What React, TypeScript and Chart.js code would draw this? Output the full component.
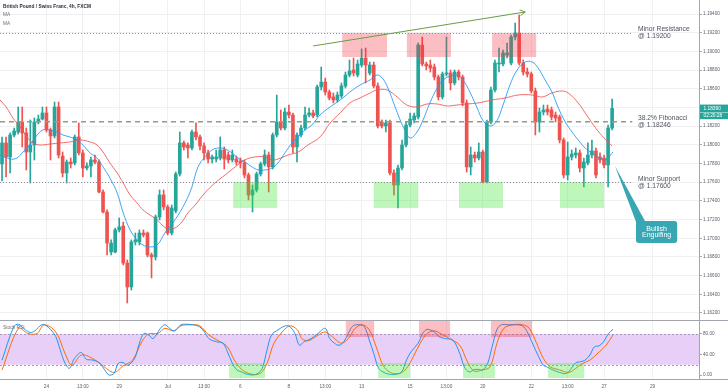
import { useEffect, useRef } from 'react';
import { Chart, registerables } from 'chart.js';

Chart.register(...registerables);

const FONT = "'Liberation Sans', Arial, sans-serif";
const UP = '#26a69a';
const DOWN = '#ef5350';

// ---- candles (4h GBP/CHF), index 0..151 ----
const opens = [
  1.17795,1.18020,1.17870,1.18105,1.18137,1.18244,1.18127,1.17923,1.17998,1.18244,
  1.18276,1.18341,1.18159,1.18095,1.18405,1.17880,1.17699,1.17816,1.17806,1.18084,
  1.17913,1.17752,1.17773,1.17838,1.17816,1.17495,1.17281,1.16853,1.16853,1.17089,
  1.17131,1.16735,1.16479,1.16960,1.16960,1.17056,1.17056,1.16821,1.16800,1.17228,
  1.17463,1.17335,1.17056,1.17292,1.17688,1.18020,1.17998,1.17966,1.18137,1.18084,
  1.17988,1.17913,1.17848,1.17848,1.17859,1.17945,1.17891,1.17838,1.17848,1.17827,
  1.17806,1.17677,1.17463,1.17517,1.17688,1.17795,1.17891,1.17763,1.18105,1.18244,
  1.18180,1.18351,1.18319,1.17977,1.18105,1.18180,1.18319,1.18341,1.18319,1.18619,
  1.18672,1.18565,1.18512,1.18480,1.18523,1.18630,1.18747,1.18801,1.18747,1.18854,
  1.18929,1.18769,1.18854,1.18630,1.18244,1.18202,1.18234,1.17699,1.17570,1.17752,
  1.17998,1.18212,1.18266,1.18298,1.19068,1.18865,1.18854,1.18833,1.18726,1.18512,
  1.18758,1.18769,1.18662,1.18779,1.18726,1.18448,1.17763,1.17891,1.17859,1.17923,
  1.17602,1.18244,1.18587,1.18865,1.18865,1.18961,1.18876,1.19154,1.19197,1.18876,
  1.18779,1.18758,1.18576,1.18244,1.18351,1.18383,1.18373,1.18319,1.18298,1.18052,
  1.17677,1.17870,1.17891,1.17913,1.17752,1.17806,1.17891,1.17934,1.17870,1.17859,
  1.17784,1.18180,
];
const highs = [
  1.18084,1.18084,1.18127,1.18180,1.18405,1.18405,1.18180,1.18266,1.18287,1.18319,
  1.18405,1.18405,1.18180,1.18458,1.18458,1.17923,1.17838,1.17859,1.18105,1.18234,
  1.17945,1.17806,1.17870,1.17891,1.17838,1.17517,1.17303,1.16982,1.17110,1.17217,
  1.17174,1.16767,1.16982,1.17056,1.17089,1.17089,1.17067,1.16842,1.17249,1.17517,
  1.17517,1.17356,1.17356,1.17709,1.18137,1.18041,1.18020,1.18159,1.18234,1.18105,
  1.18020,1.17945,1.17891,1.17945,1.18084,1.17977,1.17923,1.17945,1.17880,1.17859,
  1.17838,1.17699,1.17570,1.17709,1.17816,1.17945,1.17923,1.18127,1.18533,1.18373,
  1.18394,1.18426,1.18341,1.18127,1.18212,1.18405,1.18394,1.18373,1.18640,1.18833,
  1.18715,1.18587,1.18555,1.18565,1.18662,1.18779,1.18908,1.18929,1.18908,1.19026,
  1.19036,1.18886,1.18886,1.18662,1.18266,1.18266,1.18266,1.17731,1.17784,1.18052,
  1.18244,1.18341,1.18341,1.19090,1.19154,1.18886,1.18908,1.18865,1.18747,1.18779,
  1.19154,1.18801,1.18801,1.18801,1.18747,1.18480,1.17977,1.17923,1.18020,1.17945,
  1.18266,1.18619,1.18908,1.19036,1.19015,1.19090,1.19175,1.19304,1.19389,1.18908,
  1.18822,1.18779,1.18608,1.18394,1.18426,1.18426,1.18405,1.18351,1.18319,1.18073,
  1.18030,1.17945,1.17966,1.17945,1.17859,1.18020,1.18052,1.17966,1.17913,1.17891,
  1.18212,1.18490,
];
const lows = [
  1.17613,1.17656,1.17699,1.18084,1.18116,1.17977,1.17731,1.17591,1.17838,1.18223,
  1.18266,1.18137,1.17838,1.18073,1.17859,1.17656,1.17591,1.17752,1.17784,1.17891,
  1.17656,1.17731,1.17656,1.17795,1.17485,1.17271,1.16821,1.16821,1.16842,1.17067,
  1.16714,1.16307,1.16446,1.16928,1.16928,1.17014,1.16800,1.16575,1.16767,1.17196,
  1.17303,1.17035,1.17035,1.17271,1.17666,1.17945,1.17859,1.17945,1.18052,1.17945,
  1.17838,1.17806,1.17806,1.17816,1.17838,1.17741,1.17806,1.17816,1.17784,1.17752,
  1.17645,1.17410,1.17281,1.17495,1.17666,1.17773,1.17495,1.17741,1.18084,1.18159,
  1.18159,1.18287,1.17913,1.17816,1.18084,1.18159,1.18298,1.18287,1.18298,1.18587,
  1.18533,1.18480,1.18448,1.18458,1.18501,1.18608,1.18726,1.18737,1.18726,1.18833,
  1.18662,1.18747,1.18608,1.18180,1.18180,1.18137,1.17677,1.17463,1.17324,1.17731,
  1.17977,1.18191,1.18234,1.18276,1.18844,1.18801,1.18779,1.18694,1.18480,1.18490,
  1.18737,1.18587,1.18640,1.18694,1.18416,1.17709,1.17677,1.17816,1.17838,1.17591,
  1.17591,1.18223,1.18565,1.18779,1.18844,1.18929,1.18854,1.19122,1.18854,1.18747,
  1.18726,1.18555,1.18105,1.18137,1.18319,1.18319,1.18266,1.18244,1.18020,1.17645,
  1.17624,1.17838,1.17859,1.17709,1.17549,1.17784,1.17859,1.17645,1.17806,1.17752,
  1.17549,1.18159,
];
const closes = [
  1.18020,1.17870,1.18105,1.18148,1.18244,1.18127,1.17923,1.17998,1.18244,1.18276,
  1.18341,1.18159,1.18095,1.18405,1.17891,1.17699,1.17816,1.17795,1.18084,1.17913,
  1.17752,1.17773,1.17838,1.17816,1.17495,1.17281,1.16949,1.16949,1.17089,1.17121,
  1.16735,1.16479,1.16960,1.16982,1.17056,1.17035,1.16821,1.16800,1.17228,1.17463,
  1.17335,1.17056,1.17324,1.17688,1.18020,1.17977,1.17966,1.18137,1.18084,1.17988,
  1.17913,1.17848,1.17870,1.17870,1.17945,1.17848,1.17838,1.17891,1.17816,1.17806,
  1.17677,1.17463,1.17517,1.17688,1.17795,1.17891,1.17763,1.18105,1.18244,1.18180,
  1.18351,1.18319,1.17977,1.18105,1.18180,1.18319,1.18341,1.18309,1.18619,1.18672,
  1.18565,1.18501,1.18480,1.18533,1.18630,1.18747,1.18790,1.18769,1.18865,1.18929,
  1.18854,1.18854,1.18630,1.18202,1.18202,1.18234,1.17699,1.17570,1.17752,1.17998,
  1.18212,1.18276,1.18309,1.19068,1.18865,1.18844,1.18822,1.18726,1.18512,1.18758,
  1.18769,1.18662,1.18779,1.18726,1.18448,1.17763,1.17891,1.17859,1.17923,1.17602,
  1.18244,1.18587,1.18876,1.18876,1.18983,1.18983,1.19154,1.19197,1.18876,1.18779,
  1.18758,1.18576,1.18244,1.18351,1.18373,1.18351,1.18298,1.18287,1.18052,1.17677,
  1.17870,1.17902,1.17913,1.17752,1.17816,1.17891,1.17934,1.17677,1.17838,1.17784,
  1.18180,1.18390,
];

// ---- moving averages ----
const maBlueIdx = [-0.5,2.0,3.7,5.2,6.9,8.7,10.1,11.9,13.6,15.1,16.8,18.6,20.0,21.8,23.5,25.0,26.7,28.5,30.0,31.7,33.4,34.9,36.6,38.4,40.3,42.8,45.3,47.0,48.5,50.2,52.0,53.5,55.2,56.9,58.4,60.1,61.9,63.4,65.1,66.8,68.3,70.0,71.8,73.3,75.0,76.7,78.7,81.2,83.7,86.1,88.6,91.1,92.8,94.1,95.5,97.3,99.3,101.0,102.7,104.2,105.9,107.7,109.2,110.9,112.6,114.1,115.8,117.6,119.1,120.8,122.3,124.0,125.7,127.5,129.5,131.2,132.7,134.4,136.1,137.6,139.4,141.1,142.6,144.3,146.0,147.5,149.3,150.0,151.2];
const maBlueVal = [1.17891,1.17848,1.17859,1.17923,1.17998,1.18105,1.18159,1.18159,1.18137,1.18105,1.18084,1.18052,1.17998,1.17913,1.17859,1.17763,1.17645,1.17485,1.17271,1.17089,1.16982,1.16928,1.16907,1.16928,1.17056,1.17196,1.17378,1.17549,1.17763,1.17870,1.17945,1.17966,1.17955,1.17913,1.17859,1.17816,1.17763,1.17731,1.17731,1.17752,1.17806,1.17913,1.18020,1.18084,1.18159,1.18212,1.18319,1.18405,1.18480,1.18565,1.18640,1.18694,1.18747,1.18715,1.18608,1.18405,1.18191,1.18073,1.18137,1.18266,1.18448,1.18608,1.18694,1.18737,1.18747,1.18694,1.18565,1.18394,1.18255,1.18202,1.18244,1.18426,1.18640,1.18801,1.18886,1.18886,1.18822,1.18694,1.18565,1.18405,1.18244,1.18137,1.18052,1.17966,1.17913,1.17870,1.17838,1.17859,1.17923];
const maRedIdx = [-0.5,1.2,2.7,4.5,6.2,7.7,9.4,11.9,14.4,16.8,19.3,21.8,23.5,25.0,26.7,28.5,30.0,31.7,33.4,34.9,36.6,38.4,39.6,41.1,42.8,44.5,46.0,47.8,50.2,52.7,55.2,57.7,60.1,62.6,65.1,66.8,68.3,70.8,73.3,75.7,78.7,81.2,83.7,86.1,88.6,91.1,92.8,95.3,97.8,100.2,102.7,105.2,107.7,110.1,112.6,115.1,117.8,121.3,124.5,127.7,131.2,133.7,136.1,138.6,140.1,142.6,145.0,147.5,149.5,151.0];
const maRedVal = [1.18480,1.18394,1.18287,1.18191,1.18084,1.18020,1.17998,1.18009,1.18020,1.18030,1.18052,1.18030,1.17998,1.17923,1.17806,1.17699,1.17591,1.17463,1.17378,1.17303,1.17249,1.17196,1.17142,1.17099,1.17110,1.17174,1.17271,1.17356,1.17485,1.17591,1.17677,1.17763,1.17838,1.17870,1.17870,1.17838,1.17848,1.17891,1.17923,1.17998,1.18084,1.18234,1.18341,1.18448,1.18501,1.18555,1.18587,1.18587,1.18512,1.18426,1.18405,1.18437,1.18437,1.18416,1.18426,1.18437,1.18448,1.18480,1.18501,1.18533,1.18533,1.18512,1.18555,1.18576,1.18555,1.18448,1.18298,1.18148,1.18052,1.17988];

// ---- Stoch RSI ----
const stochKIdx = [0,2.9,4.1,5.8,7.0,8.1,9.8,11.0,12.1,13.3,14.4,15.6,16.7,17.9,19.6,20.8,22.5,24.2,25.4,26.5,27.7,28.8,30.0,31.1,32.8,34.0,35.1,36.3,37.4,39.2,40.3,41.5,42.6,44.3,45.5,47.2,48.9,50.1,51.2,53.0,54.7,55.8,57.0,58.1,59.3,60.4,62.1,63.3,64.4,65.6,66.7,68.5,70.2,71.3,72.5,73.6,74.8,76.5,78.2,80.0,81.1,82.3,83.4,84.6,85.7,86.9,88.6,89.7,90.9,92.0,93.2,94.3,95.5,97.2,98.9,100.1,101.2,103.0,104.1,105.2,107.0,108.1,109.8,111.6,113.3,114.4,115.6,116.7,117.9,119.0,120.2,121.3,122.5,123.6,125.4,127.1,128.8,130.0,131.1,132.8,134.0,135.1,136.3,138.0,139.7,140.9,142.0,143.2,144.3,145.5,146.6,147.8,148.9,150.1,151.2];
const stochKVal = [29,94,99,88,83,86,98,96,88,75,49,23,13,32,44,31,29,23,10,0,3,23,24,19,32,62,81,78,71,91,98,91,86,98,99,98,94,84,71,65,62,45,23,10,6,2,0,3,13,49,78,89,96,94,81,58,65,71,81,91,71,62,58,65,81,96,98,94,68,42,13,6,2,1,6,29,45,62,81,89,84,75,71,68,42,16,6,10,11,10,23,55,89,98,98,98,96,84,65,36,19,15,10,5,3,13,24,26,29,39,55,57,65,81,89];
const stochDIdx = [0,4.1,6.4,8.7,10.4,13.3,15.6,17.3,19.6,22.5,24.8,27.7,30.0,32.3,34.6,36.3,38.6,40.3,42.6,44.3,46.6,48.9,51.2,53.5,55.8,57.5,59.3,61.6,63.9,65.6,67.3,69.6,71.3,73.1,74.2,75.9,77.7,80.0,82.3,84.0,85.7,87.4,89.2,90.9,92.6,94.3,96.1,98.4,100.1,101.8,103.5,105.2,107.0,108.7,111.0,113.3,115.0,116.7,119.0,120.8,122.5,124.2,126.5,128.8,130.5,132.3,134.0,135.7,138.0,140.3,142.0,143.8,145.5,147.8,149.5,151.2];
const stochDVal = [10,91,81,81,98,84,42,19,39,32,19,5,18,29,65,80,81,91,86,96,98,96,78,67,55,29,11,2,3,23,62,86,96,88,71,67,75,84,71,62,71,91,98,88,55,19,5,3,13,36,62,81,86,80,70,58,29,8,10,16,62,91,98,98,91,62,32,16,10,5,13,23,29,45,58,78];

// ---- axes ----
const xTickIdx = [11,20,29,41,50,59,71,80,89,101,110,119,131,140,149,161];
const xTickLbl = ['24','13:00','29','Jul','13:00','6','8','13:00','13','15','13:00','20','22','13:00','27','29'];
const priceTicks = [1.162,1.164,1.166,1.168,1.170,1.172,1.174,1.176,1.178,1.180,1.182,1.184,1.186,1.188,1.190,1.192,1.194];
const stochTicks = [0, 40, 80];

// ---- annotations (data coordinates) ----
const resistance = 1.192;
const support = 1.176;
const fib382 = 1.18246;
const resBoxes = [[84.2, 95.3], [100.2, 111.1], [121.3, 132.2]];
const resBoxPrices = [1.18940, 1.19197];
const supBoxes = [[57.2, 68.1], [92, 103], [113.1, 124], [138.1, 149]];
const supBoxPrices = [1.17324, 1.17602];
const stochRedBoxes = [[85.1, 92.1], [103.2, 110.9], [121.0, 131.2]];
const stochRedRange = [74, 107.3];
const stochGreenBoxes = [[56.2, 65.1], [93.1, 101.0], [114.1, 122.0], [135.1, 144.1]];
const stochGreenRange = [-6, 23];
const trendFrom = [77.0, 1.19058];
const trendTo = [129.5, 1.19422];
const levelEndIdx = 156;
const levelTextIdx = 157.4;
const calloutBox = [156.9, 167.1, 1.17185, 1.16949];
const calloutTip = [151.7, 1.17774];

export default function App() {
  const ref = useRef<HTMLCanvasElement>(null);

  useEffect(() => {
    const canvas = ref.current;
    if (!canvas) return;
    const idx = opens.map((_, i) => i);
    const colors = idx.map((i) => (closes[i] >= opens[i] ? UP : DOWN));

    const overlay = {
      id: 'overlay',
      beforeDatasetsDraw(chart: any) {
        const { ctx, chartArea: ca } = chart;
        const s2 = chart.scales.y2;
        ctx.save();
        const b1 = s2.getPixelForValue(80);
        const b0 = s2.getPixelForValue(20);
        ctx.fillStyle = '#e8cff7';
        ctx.fillRect(ca.left, b1, ca.right - ca.left, b0 - b1);
        ctx.strokeStyle = '#a898bb';
        ctx.lineWidth = 1;
        ctx.setLineDash([2, 2]);
        for (const p of [b1, b0]) {
          const yy = Math.round(p) + 0.5;
          ctx.beginPath();
          ctx.moveTo(ca.left, yy);
          ctx.lineTo(ca.right, yy);
          ctx.stroke();
        }
        ctx.restore();
      },
      afterDatasetsDraw(chart: any) {
        const { ctx, chartArea: ca } = chart;
        const sx = chart.scales.x, sy = chart.scales.y, s2 = chart.scales.y2;
        ctx.save();
        const rect = (sc: any, a: number, b: number, v0: number, v1: number) => {
          const x0 = sx.getPixelForValue(a), x1 = sx.getPixelForValue(b);
          const y0 = sc.getPixelForValue(v1), y1 = sc.getPixelForValue(v0);
          ctx.fillRect(x0, y0, x1 - x0, y1 - y0);
        };
        ctx.fillStyle = 'rgba(242,54,69,0.32)';
        for (const [a, b] of resBoxes) rect(sy, a, b, resBoxPrices[0], resBoxPrices[1]);
        for (const [a, b] of stochRedBoxes) rect(s2, a, b, stochRedRange[0], stochRedRange[1]);
        ctx.fillStyle = 'rgba(60,230,50,0.33)';
        for (const [a, b] of supBoxes) rect(sy, a, b, supBoxPrices[0], supBoxPrices[1]);
        for (const [a, b] of stochGreenBoxes) rect(s2, a, b, stochGreenRange[0], stochGreenRange[1]);

        const xEnd = sx.getPixelForValue(levelEndIdx);
        ctx.lineWidth = 1;
        ctx.strokeStyle = '#8a8d97';
        ctx.setLineDash([1, 2]);
        for (const lv of [resistance, support]) {
          const yy = Math.round(sy.getPixelForValue(lv)) + 0.5;
          ctx.beginPath();
          ctx.moveTo(ca.left, yy);
          ctx.lineTo(xEnd, yy);
          ctx.stroke();
        }
        ctx.setLineDash([5, 4]);
        ctx.lineWidth = 1.5;
        ctx.strokeStyle = '#969c7f';
        const fy = sy.getPixelForValue(fib382);
        ctx.beginPath();
        ctx.moveTo(ca.left, fy);
        ctx.lineTo(xEnd, fy);
        ctx.stroke();

        ctx.setLineDash([]);
        ctx.lineWidth = 1;
        ctx.strokeStyle = '#6a9b41';
        const ax0 = sx.getPixelForValue(trendFrom[0]), ay0 = sy.getPixelForValue(trendFrom[1]);
        const ax1 = sx.getPixelForValue(trendTo[0]), ay1 = sy.getPixelForValue(trendTo[1]);
        ctx.beginPath();
        ctx.moveTo(ax0, ay0);
        ctx.lineTo(ax1, ay1);
        const ang = Math.atan2(ay1 - ay0, ax1 - ax0);
        const hl = 6;
        ctx.moveTo(ax1 - hl * Math.cos(ang - 0.5), ay1 - hl * Math.sin(ang - 0.5));
        ctx.lineTo(ax1, ay1);
        ctx.lineTo(ax1 - hl * Math.cos(ang + 0.5), ay1 - hl * Math.sin(ang + 0.5));
        ctx.stroke();
        ctx.restore();
      },
      afterDraw(chart: any) {
        const { ctx, width } = chart;
        const sx = chart.scales.x, sy = chart.scales.y, s2 = chart.scales.y2;
        ctx.save();
        // panel separators
        ctx.strokeStyle = '#a3a6af';
        ctx.lineWidth = 1;
        for (const p of [sy.bottom, s2.bottom]) {
          const yy = Math.round(p) + 0.5;
          ctx.beginPath();
          ctx.moveTo(0, yy);
          ctx.lineTo(width, yy);
          ctx.stroke();
        }
        // titles
        ctx.textBaseline = 'middle';
        ctx.textAlign = 'left';
        ctx.fillStyle = '#2a2e39';
        ctx.font = `bold 4.8px ${FONT}`;
        ctx.fillText('British Pound / Swiss Franc, 4h, FXCM', 3, 7);
        ctx.fillStyle = '#6a6d78';
        ctx.font = `4.8px ${FONT}`;
        ctx.fillText('MA', 3, 15);
        ctx.fillText('MA', 3, 23.3);
        ctx.fillText('Stoch RSI', 3, s2.top + 8);
        // level labels
        ctx.font = `6.7px ${FONT}`;
        ctx.fillStyle = '#50535e';
        const lx = sx.getPixelForValue(levelTextIdx);
        const labels: [number, string, string][] = [
          [resistance, 'Minor Resistance', '@ 1.19200'],
          [fib382, '38.2% Fibonacci', '@ 1.18246'],
          [support, 'Minor Support', '@ 1.17600'],
        ];
        for (const [v, a, b] of labels) {
          const yy = sy.getPixelForValue(v);
          ctx.fillText(a, lx, yy - 3.3);
          ctx.fillText(b, lx, yy + 3.7);
        }
        // callout
        const bx0 = sx.getPixelForValue(calloutBox[0]), bx1 = sx.getPixelForValue(calloutBox[1]);
        const by0 = sy.getPixelForValue(calloutBox[2]), by1 = sy.getPixelForValue(calloutBox[3]);
        const tx = sx.getPixelForValue(calloutTip[0]), ty = sy.getPixelForValue(calloutTip[1]);
        ctx.fillStyle = '#38a6b3';
        ctx.beginPath();
        ctx.moveTo(tx, ty);
        ctx.lineTo(bx0 + 0.5, by0 + 2);
        ctx.lineTo(bx0 + 9, by0);
        ctx.closePath();
        ctx.fill();
        const r = 3;
        ctx.beginPath();
        ctx.moveTo(bx0 + r, by0);
        ctx.lineTo(bx1 - r, by0);
        ctx.quadraticCurveTo(bx1, by0, bx1, by0 + r);
        ctx.lineTo(bx1, by1 - r);
        ctx.quadraticCurveTo(bx1, by1, bx1 - r, by1);
        ctx.lineTo(bx0 + r, by1);
        ctx.quadraticCurveTo(bx0, by1, bx0, by1 - r);
        ctx.lineTo(bx0, by0 + r);
        ctx.quadraticCurveTo(bx0, by0, bx0 + r, by0);
        ctx.closePath();
        ctx.fill();
        ctx.fillStyle = '#ffffff';
        ctx.font = `7px ${FONT}`;
        ctx.textAlign = 'center';
        const cx = (bx0 + bx1) / 2, cy = (by0 + by1) / 2;
        ctx.fillText('Bullish', cx, cy - 3.4);
        ctx.fillText('Engulfing', cx, cy + 3.4);
        // last price label
        const last = closes[closes.length - 1];
        const py = sy.getPixelForValue(last);
        const lx0 = Math.round(sy.left) + 1;
        ctx.fillStyle = UP;
        ctx.fillRect(lx0, py - 3.8, width - lx0, 7.6);
        ctx.fillRect(lx0, py + 4.2, width - lx0, 6.6);
        ctx.fillStyle = '#ffffff';
        ctx.font = `4.8px ${FONT}`;
        ctx.textAlign = 'left';
        ctx.fillText(last.toFixed(5), lx0 + 3.5, py);
        ctx.fillText('02:20:28', lx0 + 3.5, py + 7.5);
        ctx.restore();
      },
    };

    const tickFont = { family: FONT, size: 4.7 };
    const tickColor = '#5d606b';

    const chart = new Chart(canvas, {
      type: 'bar',
      data: {
        datasets: [
          {
            type: 'bar',
            label: 'wicks',
            data: idx.map((i) => ({ x: i, y: [lows[i], highs[i]] })),
            backgroundColor: colors,
            borderWidth: 0,
            barThickness: 1,
            grouped: false,
            yAxisID: 'y',
            order: 4,
          },
          {
            type: 'bar',
            label: 'bodies',
            data: idx.map((i) => ({ x: i, y: [opens[i], closes[i]] })),
            backgroundColor: colors,
            borderWidth: 0,
            barThickness: 3,
            minBarLength: 1,
            grouped: false,
            yAxisID: 'y',
            order: 3,
          },
          {
            type: 'line',
            label: 'MA red',
            data: maRedIdx.map((v, i) => ({ x: v, y: maRedVal[i] })),
            borderColor: 'rgba(239,83,80,0.85)',
            borderWidth: 1,
            pointRadius: 0,
            tension: 0.4,
            yAxisID: 'y',
            order: 2,
          },
          {
            type: 'line',
            label: 'MA blue',
            data: maBlueIdx.map((v, i) => ({ x: v, y: maBlueVal[i] })),
            borderColor: 'rgba(33,150,243,0.85)',
            borderWidth: 1,
            pointRadius: 0,
            tension: 0.4,
            yAxisID: 'y',
            order: 1,
          },
          {
            type: 'line',
            label: '%D',
            data: stochDIdx.map((v, i) => ({ x: v, y: stochDVal[i] })),
            borderColor: '#ff6d00',
            borderWidth: 1,
            pointRadius: 0,
            tension: 0.35,
            yAxisID: 'y2',
            order: 2,
          },
          {
            type: 'line',
            label: '%K',
            data: stochKIdx.map((v, i) => ({ x: v, y: stochKVal[i] })),
            borderColor: '#2196f3',
            borderWidth: 1,
            pointRadius: 0,
            tension: 0.35,
            yAxisID: 'y2',
            order: 1,
          },
        ],
      },
      options: {
        responsive: false,
        animation: false,
        devicePixelRatio: 1,
        events: [],
        layout: { padding: 0 },
        plugins: { legend: { display: false }, tooltip: { enabled: false } },
        scales: {
          x: {
            type: 'linear',
            position: 'bottom',
            min: -0.5,
            max: 172.5,
            offset: false,
            afterBuildTicks: (s: any) => {
              s.ticks = xTickIdx.map((v) => ({ value: v }));
            },
            afterFit: (s: any) => {
              s.height = 12;
              s.paddingLeft = 0;
              s.paddingRight = 0;
            },
            ticks: {
              autoSkip: false,
              maxRotation: 0,
              padding: 5,
              color: tickColor,
              font: tickFont,
              callback: (_v: any, i: number) => xTickLbl[i],
            },
            grid: { color: '#eef0f4', drawTicks: false, offset: false },
            border: { display: false },
          },
          y: {
            type: 'linear',
            position: 'right',
            stack: 'panels',
            stackWeight: 320,
            min: 1.16125,
            max: 1.1955,
            beginAtZero: false,
            afterBuildTicks: (s: any) => {
              s.ticks = priceTicks.map((v) => ({ value: v }));
            },
            afterFit: (s: any) => {
              s.width = 29;
              s.paddingTop = 0;
              s.paddingBottom = 0;
            },
            ticks: {
              padding: 1,
              color: tickColor,
              font: tickFont,
              callback: (v: any) => Number(v).toFixed(5),
            },
            grid: { color: '#eef0f4', tickColor: '#a3a6af', tickLength: 3 },
            border: { display: true, color: '#a3a6af' },
          },
          y2: {
            type: 'linear',
            position: 'right',
            stack: 'panels',
            stackWeight: 59,
            min: -7.8,
            max: 107.3,
            beginAtZero: false,
            afterBuildTicks: (s: any) => {
              s.ticks = stochTicks.map((v) => ({ value: v }));
            },
            afterFit: (s: any) => {
              s.width = 29;
              s.paddingTop = 0;
              s.paddingBottom = 0;
            },
            ticks: {
              padding: 1,
              color: tickColor,
              font: tickFont,
              callback: (v: any) => Number(v).toFixed(2),
            },
            grid: { color: 'rgba(0,0,0,0)', tickColor: '#a3a6af', tickLength: 3 },
            border: { display: true, color: '#a3a6af' },
          },
        },
      } as any,
      plugins: [overlay],
    } as any);

    return () => chart.destroy();
  }, []);

  return (
    <div style={{ position: 'fixed', left: 0, top: 0, width: 728, height: 391, background: '#ffffff' }}>
      <canvas ref={ref} width={728} height={391} style={{ display: 'block', width: 728, height: 391 }} />
    </div>
  );
}
